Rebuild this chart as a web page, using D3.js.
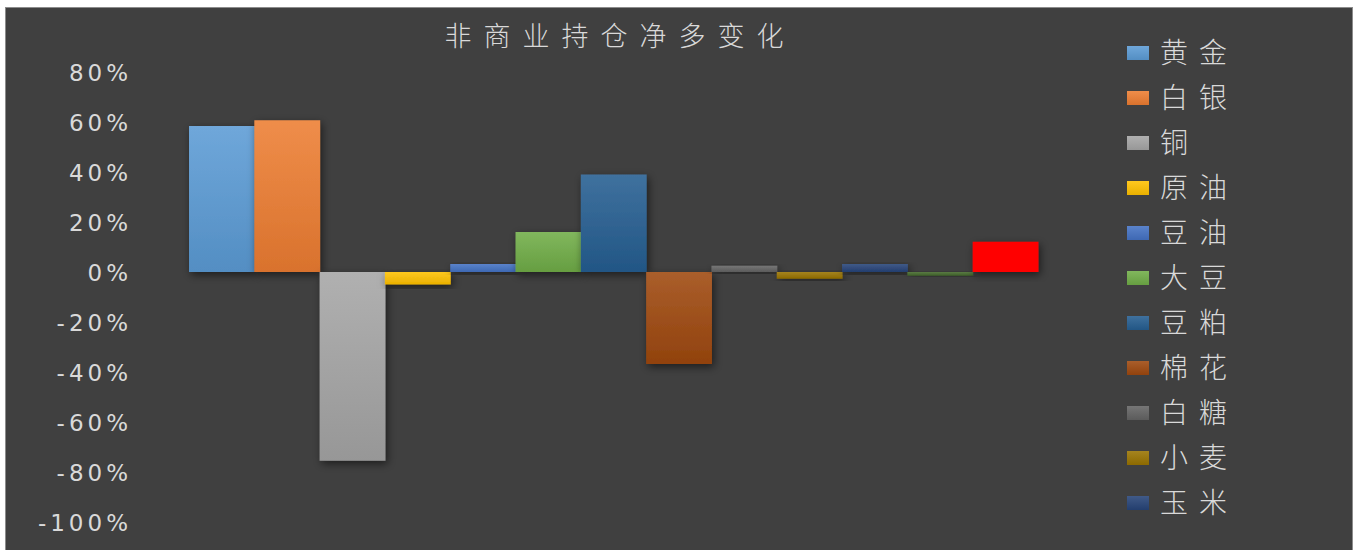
<!DOCTYPE html>
<html><head><meta charset="utf-8">
<script src="https://cdn.jsdelivr.net/npm/d3@7"></script>
<style>html,body{margin:0;padding:0;background:#fff;overflow:hidden}</style>
</head><body><svg id="c" width="1359" height="550"></svg>
<script>
const title = "非商业持仓净多变化";
const categories = ["持仓变化"];
const seriesNames = ["黄金","白银","铜","原油","豆油","大豆","豆粕","棉花","白糖","小麦","玉米","系列12","系列13"];
const seriesValues = [0.584, 0.607, -0.755, -0.05, 0.032, 0.16, 0.39, -0.368, 0.025, -0.027, 0.032, -0.015, 0.121];
const seriesColors = ["#5B9BD5","#ED7D31","#A5A5A5","#FFC000","#4472C4","#70AD47","#255E91","#9E480E","#636363","#997300","#264478","#43682B","#FF0000"];
const legendShown = 11;
const yTicks = [0.8,0.6,0.4,0.2,0,-0.2,-0.4,-0.6,-0.8,-1.0];

const svg = d3.select("#c");
const W = 1359, H = 550;
svg.append("rect").attr("x",0).attr("y",0).attr("width",W).attr("height",H).attr("fill","#fff");
svg.append("rect").attr("x",5.5).attr("y",7.5).attr("width",1347).attr("height",560)
  .attr("fill","#404040").attr("stroke","#8c8c8c").attr("stroke-width",1);

const defs = svg.append("defs");
const f = defs.append("filter").attr("id","sh").attr("x","-20%").attr("y","-20%").attr("width","150%").attr("height","150%");
f.append("feDropShadow").attr("dx",2).attr("dy",3).attr("stdDeviation",4).attr("flood-color","#000").attr("flood-opacity",0.55);
seriesColors.forEach((c,i)=>{
  const g = defs.append("linearGradient").attr("id","g"+i).attr("x1",0).attr("y1",0).attr("x2",0).attr("y2",1);
  const base = d3.color(c);
  const solid = i===12;
  g.append("stop").attr("offset","0%").attr("stop-color", solid? c : d3.interpolateRgb(c,"#fff")(0.12));
  g.append("stop").attr("offset","100%").attr("stop-color", solid? c : base.darker(0.25).toString());
});

const y = d3.scaleLinear().domain([-1,0.8]).range([522,72]);
const x0 = d3.scaleBand().domain(categories).range([140,1087]).paddingInner(0.0546).paddingOuter(0.0546);
const x1 = d3.scaleBand().domain(seriesNames).range([0,x0.bandwidth()]);

const txt = "#d9d9d9";
// y axis labels
const yAxis = d3.axisLeft(y).tickValues(yTicks).tickFormat(d=>Math.round(d*100)+"%").tickSize(0).tickPadding(0);
const ya = svg.append("g").attr("transform","translate(132,0)").call(yAxis);
ya.select(".domain").remove();
ya.selectAll("text").attr("fill",txt).attr("font-family","DejaVu Sans, sans-serif")
  .attr("font-size",23).attr("letter-spacing","4px").attr("dy","0.36em");

// bars
const data = seriesNames.map((n,i)=>({n,v:seriesValues[i],i}));
svg.append("g").selectAll("rect").data(data).join("rect")
  .attr("x",d=>x0(categories[0])+x1(d.n))
  .attr("width",x1.bandwidth()+0.5)
  .attr("y",d=>y(Math.max(0,d.v)))
  .attr("height",d=>Math.abs(y(d.v)-y(0)))
  .attr("fill",d=>`url(#g${d.i})`)
  .attr("filter","url(#sh)");

// title
svg.append("text").attr("x",620).attr("y",46).attr("text-anchor","middle")
  .attr("fill",txt).attr("font-family","Noto Sans CJK SC, sans-serif").attr("font-size",27)
  .attr("font-weight",300).attr("letter-spacing","12px").text(title);

// legend
const lg = svg.append("g").selectAll("g").data(data.slice(0,legendShown)).join("g")
  .attr("transform",d=>`translate(1127,${53+45*d.i})`);
lg.append("rect").attr("x",0).attr("y",-7).attr("width",22).attr("height",14).attr("fill",d=>`url(#g${d.i})`);
lg.append("text").attr("x",33).attr("y",0).attr("dy","0.36em").attr("fill",txt)
  .attr("font-family","Noto Sans CJK SC, sans-serif").attr("font-size",28).attr("font-weight",300)
  .attr("letter-spacing","11px").text(d=>d.n);
</script></body></html>
